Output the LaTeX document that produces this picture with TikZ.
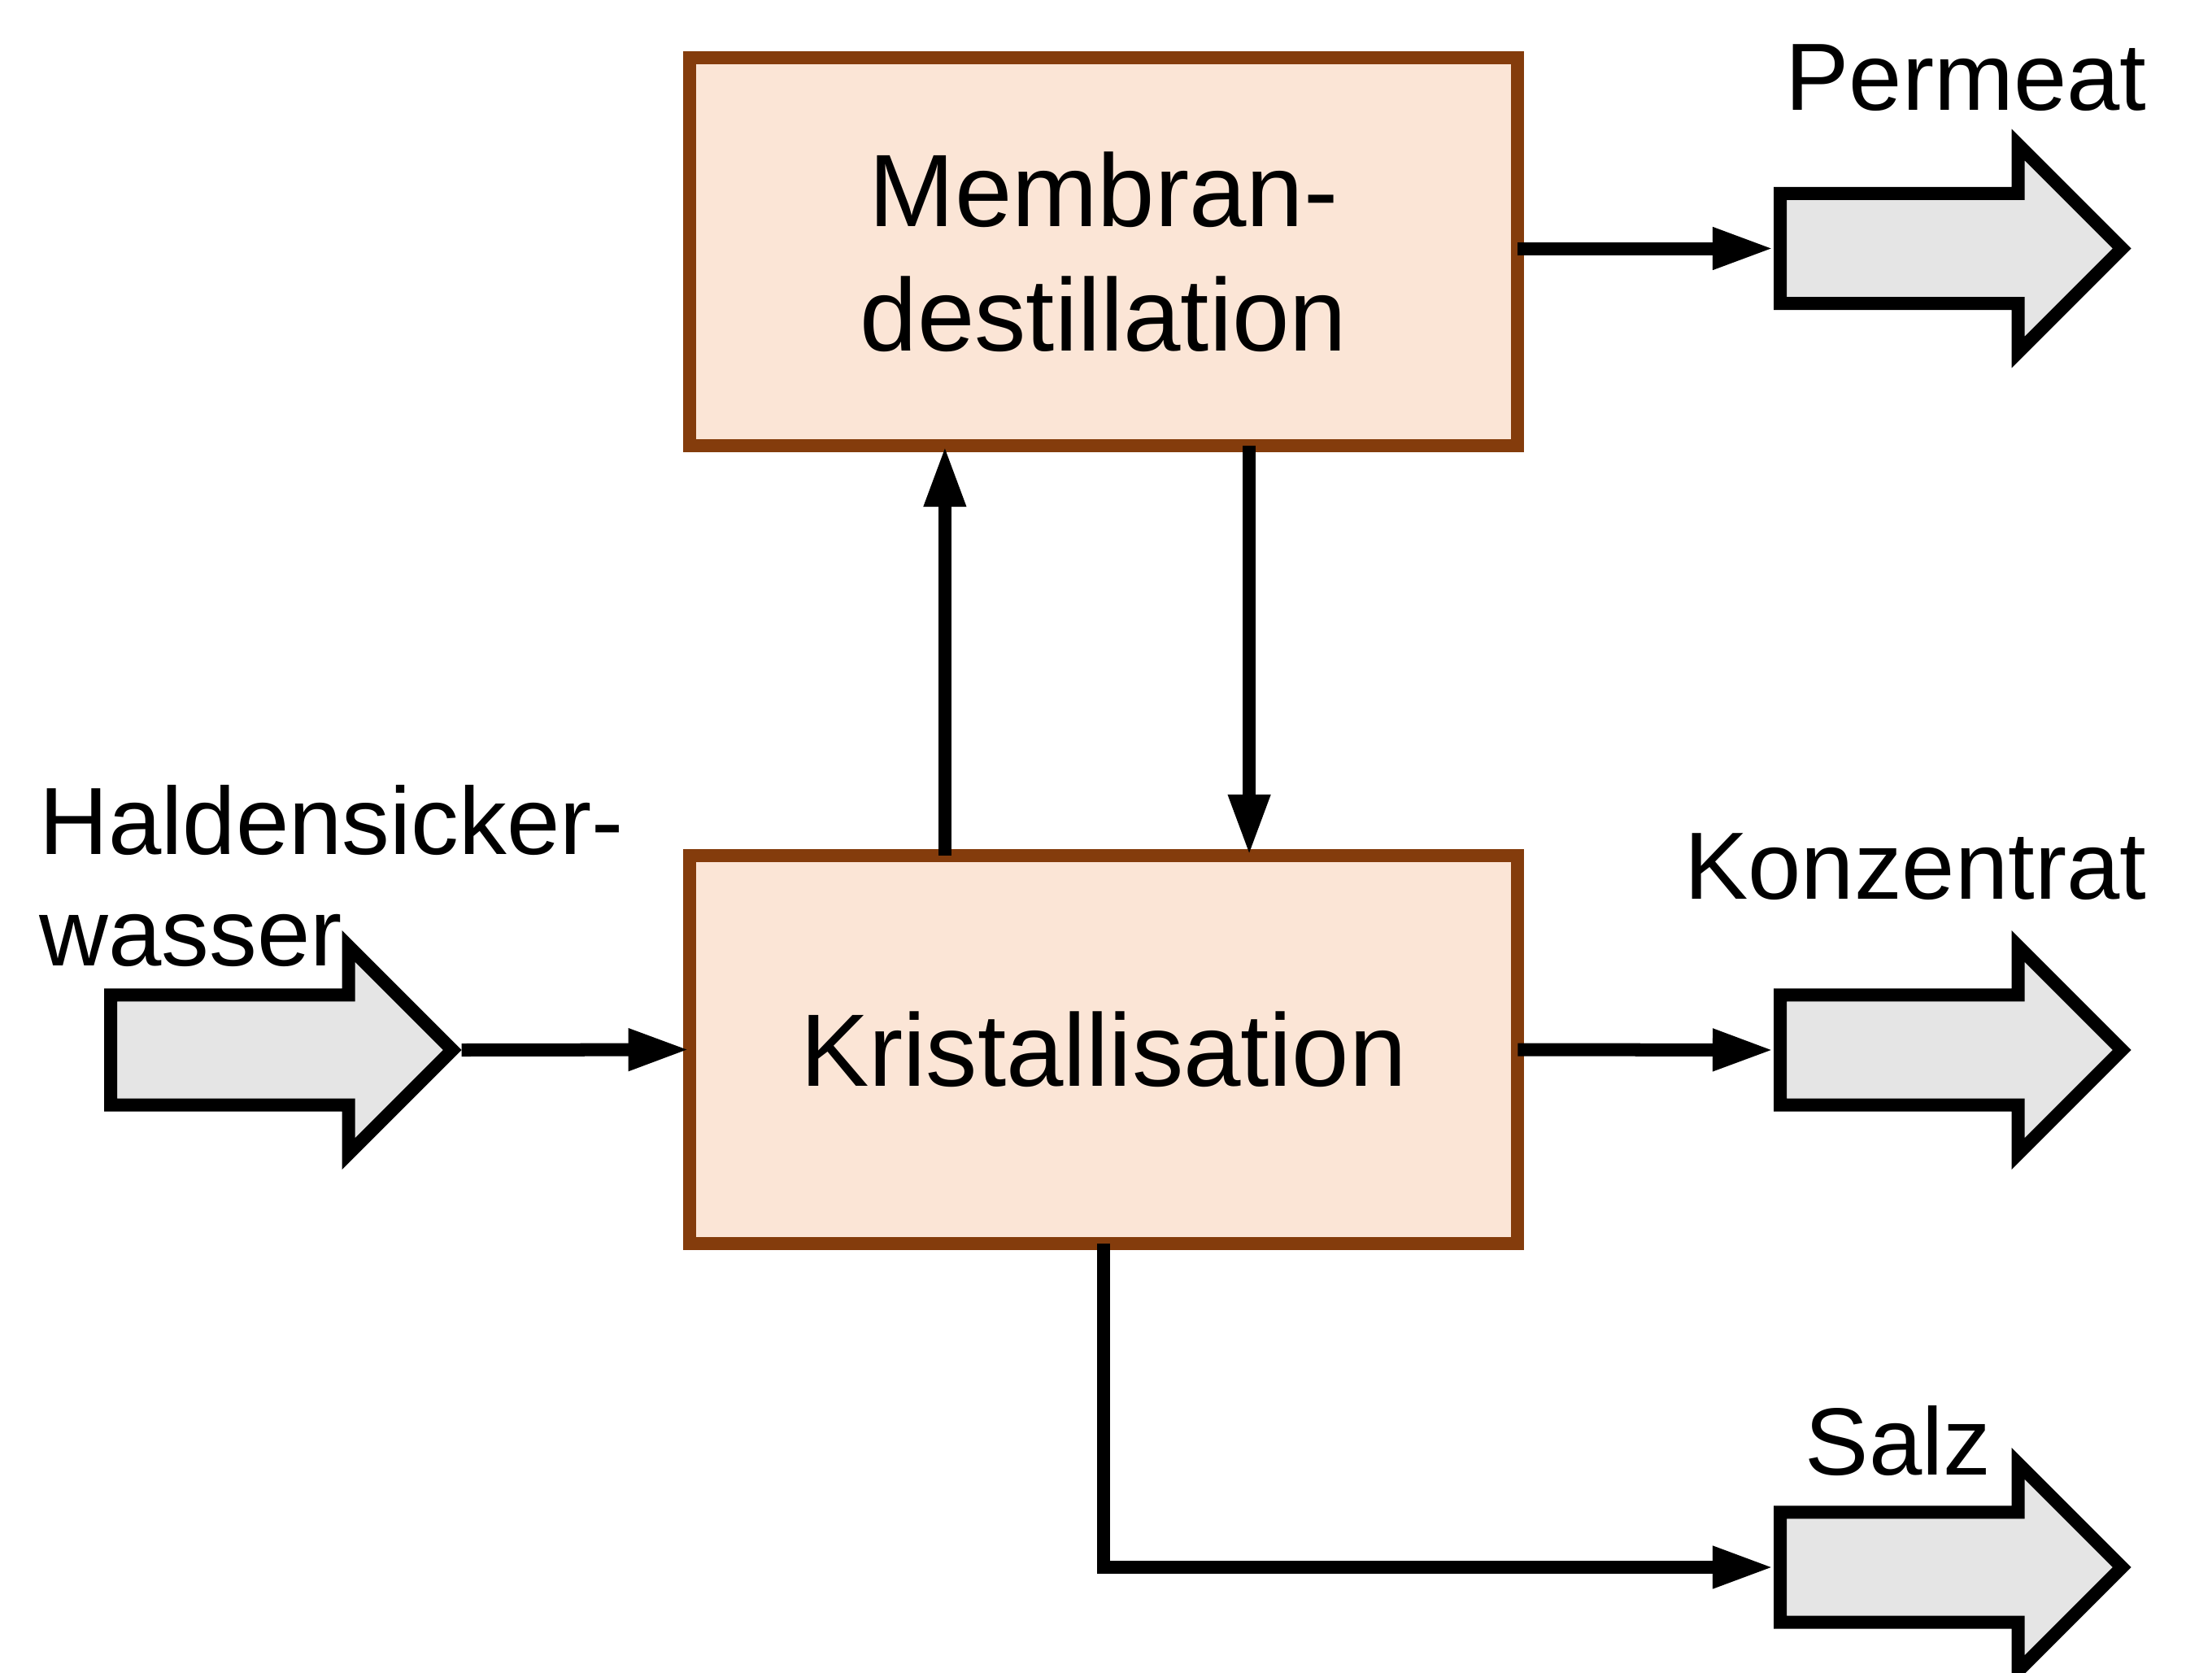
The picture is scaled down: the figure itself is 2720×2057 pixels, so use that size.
\documentclass[tikz,border=0pt]{standalone}
\usepackage{fontspec}
\setmainfont{Liberation Sans}
\usepackage{tikz}
\usetikzlibrary{calc, arrows.meta, shapes.arrows, positioning}
\definecolor{boxbrown}{HTML}{843C0C}
\definecolor{boxfill}{HTML}{FBE5D6}
\definecolor{streamgray}{HTML}{E5E5E5}
\tikzset{
    unit/.style ={rectangle, draw=boxbrown, fill=boxfill, line width=1.6mm, outer sep=0pt, minimum width=10.18cm, minimum height=4.77cm, align=center, font=\fontsize{36}{43.5}\selectfont}, % process step
    stream/.style ={single arrow, draw, fill=streamgray, line width=1.6mm, minimum height=4.2cm, inner sep=0.595cm, single arrow head extend=0.6cm, single arrow tip angle=90, anchor=tail}, % in- and outgoing streams
    flow/.style ={line width=1.6mm, -{Triangle[length=7.5mm, width=4.8mm]}},
    lbl/.style ={inner sep=0pt, font=\fontsize{33.4}{39}\selectfont}
}
\begin{document}
\begin{tikzpicture}[x=0.01cm, y=-0.01cm]
    \useasboundingbox (0,0) rectangle (2720,2057);
    % process steps
    \node [unit] (memb) at (1357,309.5) {Membran-\\destillation};
    \node [unit] (kris) at (1357,1290.5) {Kristallisation};
    % streams
    \node [stream] (feed) at (128,1291) {};
    \node [stream] (perm) at (2181,305.5) {};
    \node [stream] (konz) at (2181,1291) {};
    \node [stream] (salz) at (2181,1927) {};
    \node [lbl, anchor=north west, align=left] (feedlbl) at (48,965) {Haldensicker-\\wasser};
    \node [lbl, anchor=base east] (permlbl) at (2640,135) {Permeat};
    \node [lbl, anchor=base east] (konzlbl) at (2640,1105) {Konzentrat};
    \node [lbl, anchor=base east] (salzlbl) at (2449,1813) {Salz};
    % connectors
    \draw [flow] (feed.tip) -- (kris.west);
    \draw [flow] ([xshift=-1.95cm]kris.north) -- ([xshift=-1.95cm]memb.south);
    \draw [flow] ([xshift=1.79cm]memb.south) -- ([xshift=1.79cm]kris.north);
    \draw [flow] (perm.tail -| memb.east) -- (perm.tail);
    \draw [flow] (kris.east) -- (konz.tail);
    \draw [flow] (kris.south) |- (salz.tail);
\end{tikzpicture}
\end{document}
